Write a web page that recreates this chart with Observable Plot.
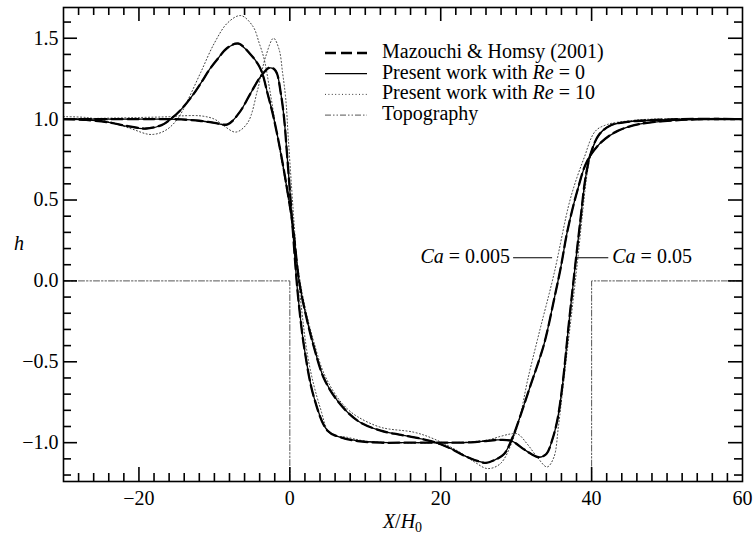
<!DOCTYPE html>
<html><head><meta charset="utf-8">
<script src="https://cdn.jsdelivr.net/npm/d3@7"></script>
<script src="https://cdn.jsdelivr.net/npm/@observablehq/plot@0.6"></script>
<style>
body{margin:0;background:#fff}
#chart{position:relative;width:753px;height:535px}
</style>
</head><body><div id="chart"></div>
<script>
// ---------- data ----------
// Ca = 0.005, Re = 0 (present work, solid)
const a0X = [-30,-27,-24,-21.5,-19.1,-17,-15.8,-14.4,-13,-11.8,-10.6,-9.6,-8.3,-6.85,-5.2,-4.06,-3.6,-2.96,-2.3,-1.63,-1.0,-0.3,0.4,1.23,2.12,3.2,4.5,6.3,8.97,12.05,14.5,16.5,18.7,20,21.5,23.1,25,26,27,28.4,29.5,30.8,31.8,33.7,35.0,35.9,36.8,38.1,39.4,41.2,43.4,46.5,50.9,55,60];
const a0H = [1.0,0.995,0.98,0.955,0.94,0.962,1.0,1.06,1.14,1.222,1.31,1.37,1.44,1.465,1.40,1.327,1.276,1.16,1.04,0.895,0.74,0.55,0.34,0.0,-0.21,-0.41,-0.6,-0.74,-0.864,-0.926,-0.95,-0.967,-0.99,-1.01,-1.04,-1.08,-1.115,-1.125,-1.11,-1.07,-0.97,-0.80,-0.66,-0.39,-0.12,0.08,0.31,0.556,0.74,0.854,0.926,0.971,0.992,1.0,1.0];
// Ca = 0.005, Mazouchi & Homsy (dashed)
const amX = [-30,-27,-24,-21.5,-19.1,-17,-15.8,-14.4,-13,-11.8,-10.6,-9.6,-8.3,-6.85,-5.2,-4.06,-3.6,-2.96,-2.3,-1.63,-1.0,-0.3,0.4,1.23,2.12,3.2,4.5,6.3,8.97,12.05,14.5,16.5,18.7,20,21.5,23.1,25,26,27,28.4,29.5,30.8,31.8,33.7,35.0,35.9,36.8,38.1,39.4,41.2,43.4,46.5,50.9,55,60];
const amH = [1.0,0.995,0.98,0.957,0.942,0.963,1.0,1.06,1.14,1.222,1.31,1.37,1.44,1.468,1.40,1.327,1.276,1.16,1.04,0.895,0.74,0.55,0.34,0.0,-0.21,-0.41,-0.6,-0.74,-0.864,-0.926,-0.95,-0.967,-0.99,-1.01,-1.04,-1.08,-1.115,-1.125,-1.11,-1.07,-0.97,-0.80,-0.66,-0.39,-0.12,0.08,0.31,0.556,0.74,0.854,0.926,0.971,0.992,1.0,1.0];
// Ca = 0.005, Re = 10 (dotted)
const a10X = [-30,-27,-24,-21,-18.4,-16.5,-14.9,-13.5,-11.8,-10,-8.25,-6.5,-4.9,-4.06,-3.4,-2.8,-2.2,-1.6,-1.0,-0.3,0.4,1.2,2.1,3.2,4.5,6.3,7.6,9,12.05,16.5,19.1,22.2,24.5,26.2,27.9,29.5,30.6,31.5,33.0,35.0,37.2,39.0,40.5,42.1,44.7,48,60];
const a10H = [1.015,1.01,0.985,0.94,0.905,0.93,1.0,1.12,1.29,1.47,1.595,1.64,1.574,1.47,1.37,1.22,1.05,0.88,0.72,0.53,0.33,0.04,-0.18,-0.38,-0.57,-0.72,-0.79,-0.84,-0.905,-0.936,-0.977,-1.05,-1.12,-1.16,-1.13,-0.99,-0.82,-0.617,-0.33,0.04,0.51,0.76,0.926,0.967,0.988,1.0,1.0];
// Ca = 0.05, Re = 0 (solid)
const b0X = [-30,-25,-20,-16,-14.4,-12,-10,-8.25,-6.7,-5.2,-3.84,-2.6,-1.85,-1.2,-0.75,-0.4,0.0,0.4,0.8,1.1,1.9,3.2,5.0,6.75,9,12,15,18.7,21,24,26,27.5,29.3,31,32,33,34,34.8,35.5,36.2,36.9,37.6,38.5,39.2,39.9,41,42.5,44.7,47.8,52,60];
const b0H = [1.0,1.0,1.0,1.0,0.998,0.99,0.977,0.967,1.04,1.16,1.265,1.317,1.296,1.16,1.0,0.8,0.56,0.31,0.06,-0.1,-0.41,-0.72,-0.926,-0.967,-0.988,-0.998,-1.0,-1.0,-1.0,-0.998,-0.99,-0.983,-0.988,-1.04,-1.07,-1.09,-1.07,-0.98,-0.85,-0.62,-0.3,0.0,0.37,0.64,0.79,0.905,0.961,0.983,0.993,1.0,1.0];
// Ca = 0.05, Mazouchi & Homsy (dashed)
const bmX = [-30,-25,-20,-16,-14.4,-12,-10,-8.25,-6.7,-5.2,-3.84,-2.6,-1.85,-1.2,-0.75,-0.4,0.0,0.4,0.8,1.1,1.9,3.2,5.0,6.75,9,12,15,18.7,21,24,26,27.5,29.3,31,32,33,34,34.8,35.5,36.2,36.9,37.6,38.5,39.2,39.9,41,42.5,44.7,47.8,52,60];
const bmH = [1.0,1.0,1.0,1.0,0.998,0.99,0.977,0.968,1.04,1.16,1.265,1.32,1.296,1.16,1.0,0.8,0.56,0.31,0.06,-0.1,-0.41,-0.72,-0.926,-0.967,-0.99,-1.0,-1.0,-1.0,-1.0,-0.998,-0.99,-0.983,-0.988,-1.04,-1.07,-1.09,-1.07,-0.98,-0.85,-0.62,-0.3,0.0,0.37,0.64,0.79,0.905,0.961,0.983,0.993,1.0,1.0];
// Ca = 0.05, Re = 10 (dotted)
const b10X = [-30,-25,-20,-16,-14.4,-11.8,-10,-8.7,-7.15,-5.6,-4.28,-3.18,-2.16,-1.42,-0.97,-0.53,-0.22,0.2,0.6,1.0,1.5,2.5,4.0,5.4,7.6,10,14,20,24,26.5,28,29.3,30.2,31.5,32.8,34.1,35.0,35.6,36.2,36.9,37.6,38.2,38.8,39.4,40,41,42.5,44.7,48,52,60];
const b10H = [1.0,1.005,1.01,1.015,1.02,1.02,1.0,0.957,0.92,0.977,1.18,1.39,1.50,1.43,1.29,1.12,0.895,0.6,0.33,0.08,-0.15,-0.5,-0.78,-0.946,-0.967,-0.99,-1.0,-1.0,-0.995,-0.98,-0.96,-0.946,-0.946,-1.01,-1.09,-1.15,-1.09,-0.9,-0.66,-0.38,-0.1,0.15,0.42,0.66,0.8,0.9,0.96,0.983,0.995,1.0,1.0];
// Topography (step trench between X = 0 and X = 40)
const topoX = [-30,0,0,40,40,60];
const topoH = [0,0,-2,-2,0,0];

// ticks / labels
const xTickLabels = [-20,0,20,40,60];
const xMajorTicks = [-20,0,20,40];
const yTickLabels = [-1.0,-0.5,0.0,0.5,1.0,1.5];
const legendLabels = [
  ["Mazouchi & Homsy (2001)"],
  ["Present work with ", "Re", " = 0"],
  ["Present work with ", "Re", " = 10"],
  ["Topography"]
];
const caLabels = ["0.005","0.05"];

// ---------- layout ----------
const W=753,H=535,mL=63,mR=11,mT=7,mB=54;
const frameW=W-mL-mR, frameH=H-mT-mB;
const xDom=[-30,60], yDom=[-1.24,1.69];
const FONT='"Liberation Serif","Times New Roman",Times,serif';
const rows=(xs,hs)=>xs.map((x,i)=>({x,h:hs[i]}));
const xMinor=d3.range(-28,60,2).filter(d=>!xMajorTicks.includes(d));
const yMajor=yTickLabels;
const yMinor=d3.range(-12,17).map(d=>d/10).filter(d=>Math.abs(d*2-Math.round(d*2))>1e-6);
const majL=14, minL=8; // tick lengths in px
const ux=(xDom[1]-xDom[0])/frameW, uy=(yDom[1]-yDom[0])/frameH;

const styles={
  dash:{stroke:"black",strokeWidth:2.3,strokeDasharray:"11,5"},
  solid:{stroke:"black",strokeWidth:1.3},
  dot:{stroke:"#222",strokeWidth:0.9,strokeDasharray:"1,2.4"},
  topo:{stroke:"#555",strokeWidth:1,strokeDasharray:"6,2,1.5,2,1.5,2"}
};
const curve="catmull-rom";
const tickStyle={stroke:"black",strokeWidth:1.6};
const xTickMarks=(ticks,len)=>[
  Plot.ruleX(ticks,{x:d=>d,y1:yDom[0],y2:yDom[0]+len*uy,...tickStyle}),
  Plot.ruleX(ticks,{x:d=>d,y1:yDom[1],y2:yDom[1]-len*uy,...tickStyle})
];
const yTickMarks=(ticks,len)=>[
  Plot.ruleY(ticks,{y:d=>d,x1:xDom[0],x2:xDom[0]+len*ux,...tickStyle}),
  Plot.ruleY(ticks,{y:d=>d,x1:xDom[1],x2:xDom[1]-len*ux,...tickStyle})
];

const plot=Plot.plot({
  width:W,height:H,marginLeft:mL,marginRight:mR,marginTop:mT,marginBottom:mB,
  style:{fontFamily:FONT,fontSize:"20px",background:"white",color:"black",overflow:"visible"},
  x:{domain:xDom},
  y:{domain:yDom},
  marks:[
    Plot.line(rows(topoX,topoH),{x:"x",y:"h",...styles.topo,clip:true}),
    Plot.line(rows(a10X,a10H),{x:"x",y:"h",...styles.dot,curve,clip:true}),
    Plot.line(rows(b10X,b10H),{x:"x",y:"h",...styles.dot,curve,clip:true}),
    Plot.line(rows(amX,amH),{x:"x",y:"h",...styles.dash,curve,clip:true}),
    Plot.line(rows(bmX,bmH),{x:"x",y:"h",...styles.dash,curve,clip:true}),
    Plot.line(rows(a0X,a0H),{x:"x",y:"h",...styles.solid,curve,clip:true}),
    Plot.line(rows(b0X,b0H),{x:"x",y:"h",...styles.solid,curve,clip:true}),
    ...xTickMarks(xMinor,minL), ...xTickMarks(xMajorTicks,majL),
    ...yTickMarks(yMinor,minL), ...yTickMarks(yMajor,majL),
    Plot.frame({stroke:"black",strokeWidth:1.6}),
    Plot.axisX(xTickLabels,{tickSize:0,tickPadding:9,fontSize:20,label:null,tickFormat:d3.format("d")}),
    Plot.axisY(yTickLabels,{tickSize:0,tickPadding:5,fontSize:20,label:null,tickFormat:d3.format(".1f")})
  ]
});
document.getElementById("chart").appendChild(plot);

// ---------- legend, axis titles, Ca labels ----------
const svg=d3.select(plot);
const sx=plot.scale("x"), sy=plot.scale("y");
const g=svg.append("g").attr("font-family",FONT).attr("font-size",20).attr("fill","black").attr("text-anchor","start");
function richText(sel, parts){
  parts.forEach((p,i)=>{
    const t=sel.append("tspan").text(p);
    if(parts.length>1 && i===1) t.attr("font-style","italic");
  });
}
const legStyles=[styles.dash,styles.solid,styles.dot,styles.topo];
const lx0=325,lx1=367,ltx=382,ly0=58,ldy=20.7;
legendLabels.forEach((parts,i)=>{
  const base=ly0+i*ldy, st=legStyles[i];
  g.append("line").attr("x1",lx0).attr("x2",lx1).attr("y1",base-5).attr("y2",base-5)
    .attr("stroke",st.stroke).attr("stroke-width",st.strokeWidth).attr("stroke-dasharray",st.strokeDasharray||null);
  richText(g.append("text").attr("x",ltx).attr("y",base),parts);
});
const caY=sy.apply(0.14);
const leftEnd=sx.apply(34.83), rightStart=sx.apply(37.9);
g.append("line").attr("x1",leftEnd-39).attr("x2",leftEnd).attr("y1",caY).attr("y2",caY).attr("stroke","black").attr("stroke-width",1);
g.append("line").attr("x1",rightStart).attr("x2",rightStart+33).attr("y1",caY).attr("y2",caY).attr("stroke","black").attr("stroke-width",1);
const t1=g.append("text").attr("x",leftEnd-42).attr("y",caY+5).attr("text-anchor","end");
t1.append("tspan").attr("font-style","italic").text("Ca");
t1.append("tspan").text(" = "+caLabels[0]);
const t2=g.append("text").attr("x",rightStart+37).attr("y",caY+5).attr("text-anchor","start");
t2.append("tspan").attr("font-style","italic").text("Ca");
t2.append("tspan").text(" = "+caLabels[1]);
g.append("text").attr("x",19).attr("y",(mT+H-mB)/2+6).attr("text-anchor","middle").attr("font-style","italic").text("h");
const xt=g.append("text").attr("x",(mL+W-mR)/2).attr("y",528).attr("text-anchor","middle");
xt.append("tspan").attr("font-style","italic").text("X");
xt.append("tspan").text("/");
xt.append("tspan").attr("font-style","italic").text("H");
xt.append("tspan").attr("font-size",14).attr("dy",4).text("0");
</script>
</body></html>
